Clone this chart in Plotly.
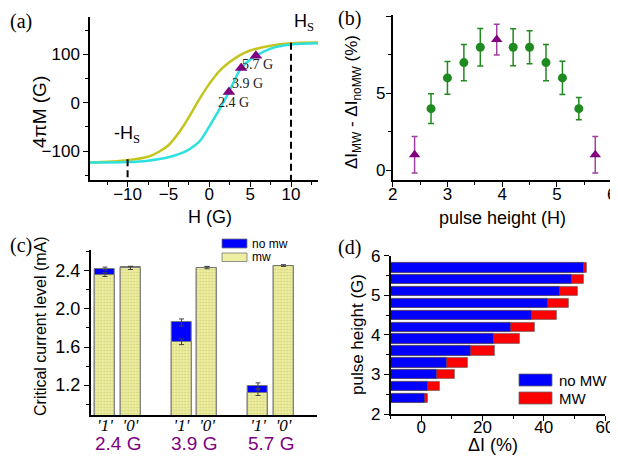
import plotly.graph_objects as go

# ---------------- data ----------------
# (a) magnetization loops
H_up = [-14.6, -10, -7.5, -5, -3.65, -2.5, -1.2, 0, 1.2, 2.4, 3.9, 5.0, 5.7, 7.5, 10, 13.4]
M_up = [-124, -123, -120, -113, -106, -97, -80, -49, -15, 22, 72, 89, 97, 112, 120.5, 123]
H_down = [-14.6, -10, -7.5, -6.1, -5, -3.65, -2.5, -1.2, 0, 1.2, 2.5, 3.65, 5, 7.5, 10, 13.4]
M_down = [-124, -119, -112, -101, -88, -60, -30, 8, 39, 65, 84, 97.5, 108, 118, 123, 124.4]
pulse_pts = [2.4, 3.9, 5.7]
pulse_M = [22, 72, 97]
pulse_lbl = ["2.4 G", "3.9 G", "5.7 G"]
Hs = 10
Hs_top = 124
mHs_top = -117

# (b) difference vs pulse height
b_x_green = [2.7, 3.0, 3.3, 3.6, 4.2, 4.5, 4.8, 5.1, 5.4]
b_y_green = [4.0, 6.0, 7.0, 8.0, 8.0, 8.0, 7.0, 6.0, 4.0]
b_e_green = [0.97, 1.07, 1.18, 1.22, 1.2, 1.07, 1.18, 1.08, 0.73]
b_x_purple = [2.4, 3.9, 5.7]
b_y_purple = [1.0, 8.5, 1.0]
b_e_purple = [1.19, 1.0, 1.19]

# (c) critical current levels
c_pos = [0, 1, 3, 4, 6, 7]
c_ticktext = ["'1'", "'0'", "'1'", "'0'", "'1'", "'0'"]
c_nomw = [2.425, 2.437, 1.858, 2.435, 1.193, 2.455]
c_nomw_err = [0.015, 0.012, 0.037, 0.012, 0.03, 0.008]
c_mw = [2.362, 2.430, 1.655, 2.435, 1.12, 2.455]
c_mw_err = [0.02, 0.015, 0.03, 0.012, 0.03, 0.008]
c_groups = ["2.4 G", "3.9 G", "5.7 G"]
c_group_pos = [0.5, 3.5, 6.5]

# (d) delta I vs pulse height
d_h = [2.4, 2.7, 3.0, 3.3, 3.6, 3.9, 4.2, 4.5, 4.8, 5.1, 5.4, 5.7]
d_nomw = [1.1, 2.2, 5.1, 8.2, 16.1, 23.7, 29.2, 36.2, 41.2, 45.2, 49.2, 53.2]
d_mw = [2.1, 6.1, 11.0, 15.0, 24.0, 32.1, 37.1, 44.1, 48.2, 51.1, 53.2, 54.0]
d_xrange = [-10, 60]

# ---------------- styling ----------------
SANS = "Liberation Sans"
SERIF = "Liberation Serif"
OFF = 8                      # page body margin of the html page
W, Hh = 618 - OFF, 458 - OFF
YEL = "#c4c41c"
CYA = "#2fe0e0"
PUR = "#800080"
GRN = "#1f8a1f"


def px(x):
    return (x - OFF) / W


def py(y):
    return 1 - (y - OFF) / Hh


def axis(domain, rng, anchor, dtick=None, mdtick=None, size=17, **kw):
    d = dict(domain=domain, range=rng, anchor=anchor, showline=True, automargin=False,
             linecolor="black", linewidth=1.5, ticks="outside", ticklen=5,
             tickwidth=1.2, tickcolor="black", showgrid=False, zeroline=False,
             tickfont=dict(family=SANS, size=size, color="black"))
    if dtick is not None:
        d["dtick"] = dtick
        d["tick0"] = 0
    if mdtick is not None:
        d["minor"] = dict(dtick=mdtick, ticks="outside", ticklen=3,
                          tickcolor="black", tickwidth=1, showgrid=False)
    d.update(kw)
    return d


fig = go.Figure()

# ---- (a)
fig.add_trace(go.Scatter(x=H_down, y=M_down, mode="lines", line=dict(color=YEL, width=2.5, shape="spline"),
                         xaxis="x", yaxis="y", showlegend=False))
fig.add_trace(go.Scatter(x=H_up, y=M_up, mode="lines", line=dict(color=CYA, width=2.5, shape="spline"),
                         xaxis="x", yaxis="y", showlegend=False))
a_yr = [-160, 178]
fig.add_trace(go.Scatter(x=[Hs, Hs], y=[Hs_top, a_yr[0]], mode="lines",
                         line=dict(color="black", width=2, dash="7px,4px"), xaxis="x", yaxis="y", showlegend=False))
fig.add_trace(go.Scatter(x=[-Hs, -Hs], y=[mHs_top, a_yr[0]], mode="lines",
                         line=dict(color="black", width=2, dash="7px,4px"), xaxis="x", yaxis="y", showlegend=False))
fig.add_trace(go.Scatter(x=pulse_pts, y=pulse_M, mode="markers",
                         marker=dict(symbol="triangle-up", size=11, color=PUR),
                         xaxis="x", yaxis="y", showlegend=False))

# ---- (b)
fig.add_trace(go.Scatter(x=b_x_green, y=b_y_green, mode="markers",
                         marker=dict(symbol="circle", size=9, color=GRN),
                         error_y=dict(type="data", array=b_e_green, color=GRN, thickness=1.5, width=3),
                         xaxis="x2", yaxis="y2", showlegend=False))
fig.add_trace(go.Scatter(x=b_x_purple, y=b_y_purple, mode="markers",
                         marker=dict(symbol="triangle-up", size=10, color=PUR),
                         error_y=dict(type="data", array=b_e_purple, color="#a040a0", thickness=1.5, width=3),
                         xaxis="x2", yaxis="y2", showlegend=False))

# ---- (c)
fig.add_trace(go.Bar(x=c_pos, y=c_nomw, width=0.78, marker=dict(color="#0000ff", line=dict(color="#777777", width=1)),
                     error_y=dict(type="data", array=c_nomw_err, color="#444444", thickness=1, width=2.5),
                     xaxis="x3", yaxis="y3", showlegend=False))
fig.add_trace(go.Bar(x=c_pos, y=c_mw, width=0.78,
                     marker=dict(color="#f0f0a6", line=dict(color="#777777", width=1),
                                 pattern=dict(shape=".", fgcolor="#d4d47a", bgcolor="#f0f0a6", size=3, solidity=0.35)),
                     error_y=dict(type="data", array=c_mw_err, color="#444444", thickness=1, width=2.5),
                     xaxis="x3", yaxis="y3", showlegend=False))

# ---- (d)
fig.add_trace(go.Bar(y=d_h, x=[v - d_xrange[0] for v in d_mw], base=d_xrange[0], orientation="h", width=0.235,
                     marker=dict(color="#ff0000", line=dict(color="#555555", width=0.6)),
                     xaxis="x4", yaxis="y4", showlegend=False))
fig.add_trace(go.Bar(y=d_h, x=[v - d_xrange[0] for v in d_nomw], base=d_xrange[0], orientation="h", width=0.235,
                     marker=dict(color="#0000ff", line=dict(color="#555555", width=0.6)),
                     xaxis="x4", yaxis="y4", showlegend=False))

# ---------------- layout ----------------
ann = []


def A(text, x, y, size=17, family=SANS, color="black", angle=0, xanchor="center", yanchor="middle", **kw):
    d = dict(text=text, x=x, y=y, xref="paper", yref="paper", showarrow=False,
             font=dict(family=family, size=size, color=color), textangle=angle,
             xanchor=xanchor, yanchor=yanchor)
    d.update(kw)
    ann.append(d)


# panel labels
A("(a)", px(21), py(22), size=20, family=SERIF)
A("(b)", px(349), py(18), size=20, family=SERIF)
A("(c)", px(21), py(246), size=20, family=SERIF)
A("(d)", px(349), py(247), size=20, family=SERIF)

# (a) titles
A("4πM (G)", px(40), py(112), size=19, angle=-90)
A("H (G)", px(210), py(217), size=18)
A("H<sub><span style='font-family:Liberation Serif'>S</span></sub>", px(304), py(23), size=18)
A("-H<sub><span style='font-family:Liberation Serif'>S</span></sub>", px(127), py(135), size=18)
shifts = [(5, -10), (6, -16), (2, -9)]
for xv, yv, t, (sx, sy) in zip(pulse_pts, pulse_M, pulse_lbl, shifts):
    ann.append(dict(text=t, x=xv, y=yv, xref="x", yref="y", showarrow=False, xshift=sx, yshift=sy,
                    font=dict(family=SERIF, size=14, color="#222222")))

# (b) titles
A("ΔI<sub>MW</sub> - ΔI<sub>noMW</sub> (%)", px(353), py(102), size=17, angle=-90)
A("pulse height (H)", px(502), py(218), size=18)

# (c) titles
A("Critical current level (mA)", px(40), py(326), size=16, angle=-90)
for gx, g in zip(c_group_pos, c_groups):
    ann.append(dict(text=g, x=gx, y=py(443), xref="x3", yref="paper", showarrow=False,
                    yanchor="middle", font=dict(family=SANS, size=19, color=PUR)))
A("no mw", px(250), py(243.5), size=12, xanchor="left")
A("mw", px(250), py(257), size=12, xanchor="left")

# (d) titles
A("pulse height (G)", px(357), py(335), size=17, angle=-90)
A("ΔI (%)", px(493), py(445), size=18)
A("no MW", px(557), py(380), size=15, xanchor="left")
A("MW", px(557), py(398), size=15, xanchor="left")

shapes = [
    dict(type="rect", xref="paper", yref="paper", x0=px(222), x1=px(247), y0=py(248), y1=py(239),
         fillcolor="#0000ff", line=dict(color="#777777", width=0.8)),
    dict(type="rect", xref="paper", yref="paper", x0=px(222), x1=px(247), y0=py(261.5), y1=py(253),
         fillcolor="#eeeea2", line=dict(color="#777777", width=0.8)),
    dict(type="rect", xref="paper", yref="paper", x0=px(519), x1=px(552), y0=py(386), y1=py(374),
         fillcolor="#0000ff", line=dict(color="#666666", width=0.8)),
    dict(type="rect", xref="paper", yref="paper", x0=px(519), x1=px(552), y0=py(404), y1=py(392),
         fillcolor="#ff0000", line=dict(color="#666666", width=0.8)),
]

fig.update_layout(
    template="none",
    width=W, height=Hh, margin=dict(l=0, r=0, t=0, b=0, pad=0),
    paper_bgcolor="white", plot_bgcolor="rgba(0,0,0,0)",
    font=dict(family=SANS, color="black"),
    barmode="overlay", bargap=0,
    showlegend=False,
    xaxis=axis([px(90), px(318)], [-14.6, 13.3], "y", 5, 2.5, ticklabelstandoff=-7),
    yaxis=axis([py(180), py(16.7)], a_yr, "x", 100, 50),
    xaxis2=axis([px(392.7), px(611.7)], [2, 6], "y2", 1, 0.5, ticklabelstandoff=-7),
    yaxis2=axis([py(180), py(15)], [-0.65, 10.1], "x2", 5, 2.5, ticklabelstandoff=-3),
    xaxis3=axis([px(90.7), px(316.7)], [-0.56, 8.3], "y3", ticks="", ticklabelstandoff=-6,
                tickvals=c_pos, ticktext=["<i>" + t + "</i>" for t in c_ticktext],
                tickfont=dict(family=SERIF, size=17, color="black")),
    yaxis3=axis([py(415), py(250)], [0.885, 2.62], "x3", 0.4, 0.2, tickformat=".1f", size=18),
    xaxis4=axis([px(390.7), px(605)], d_xrange, "y4", 20, 10, ticklabelstandoff=-8),
    yaxis4=axis([py(414), py(255.7)], [2, 6], "x4", 1, 0.5),
    annotations=ann, shapes=shapes,
)

fig.write_html("out.html")
